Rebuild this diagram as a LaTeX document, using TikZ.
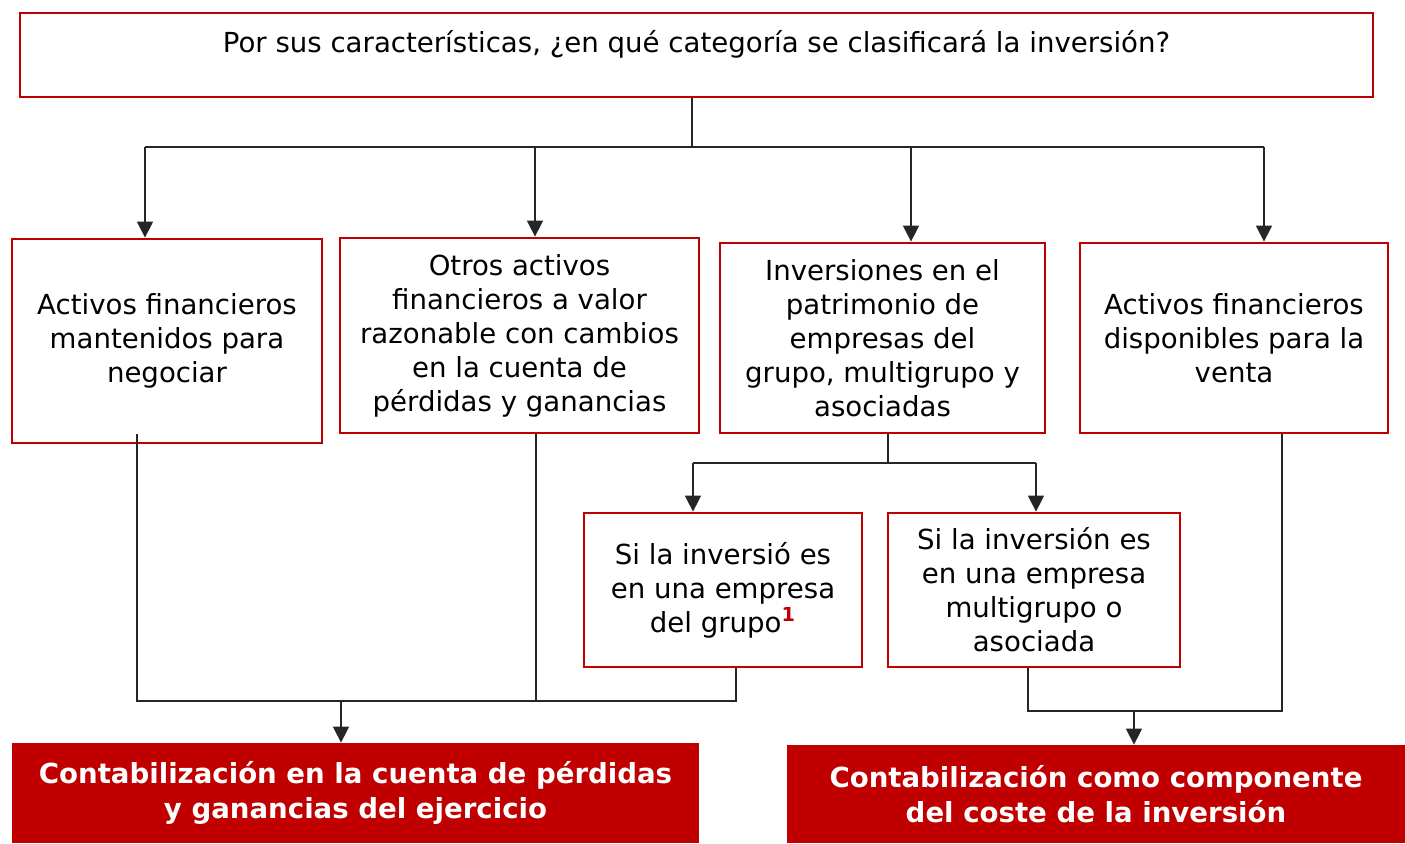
\documentclass[tikz,border=0pt]{standalone}
\usepackage{fontspec}
\setmainfont{DejaVu Sans}
\usetikzlibrary{arrows.meta}

\definecolor{rojo}{RGB}{192,0,0}
\tikzstyle{caja} = [rectangle,draw=rojo,line width=1.4pt,align=center,inner sep=2pt]
\tikzstyle{final} = [rectangle,fill=rojo,text=white,align=center,font=\fontsize{13.8}{17.5}\selectfont\bfseries]
\tikzstyle{linea} = [draw=black!85,line width=0.75pt]
\tikzstyle{flecha} = [linea,-{Triangle[width=8pt,length=8pt]}]
\tikzstyle{every node}=[font=\fontsize{13.8}{17}\selectfont]

\begin{document}
\begin{tikzpicture}[x=0.5pt,y=-0.5pt]
	\useasboundingbox (0,0) rectangle (1405,843);
	% pregunta
	\node[caja,minimum width=676.5pt,minimum height=42pt,text height=10pt,text depth=13pt] (Q) at (696.5,55)
	  {Por sus características, ¿en qué categoría se clasificará la inversión?};
	% categorias
	\node[caja,minimum width=155pt,minimum height=102pt] (B1) at (167,341)
	  {Activos financieros\\mantenidos para\\negociar};
	\node[caja,minimum width=179.5pt,minimum height=97.5pt] (B2) at (519.5,335.5)
	  {Otros activos\\financieros a valor\\razonable con cambios\\en la cuenta de\\pérdidas y ganancias};
	\node[caja,minimum width=162.5pt,minimum height=95pt] (B3) at (882.5,338)
	  {Inversiones en el\\patrimonio de\\empresas del\\grupo, multigrupo y\\asociadas};
	\node[caja,minimum width=154pt,minimum height=95pt] (B4) at (1234,338)
	  {Activos financieros\\disponibles para la\\venta};
	\node[caja,minimum width=139pt,minimum height=77pt] (B5) at (723,590)
	  {Si la inversió es\\en una empresa\\del grupo\textsuperscript{\textcolor{rojo}{\textbf{1}}}};
	\node[caja,minimum width=146pt,minimum height=77pt] (B6) at (1034,590)
	  {Si la inversión es\\en una empresa\\multigrupo o\\asociada};
	% resultados
	\node[final,minimum width=343.5pt,minimum height=50pt] (R1) at (355.5,793)
	  {Contabilización en la cuenta de pérdidas\\y ganancias del ejercicio};
	\node[final,minimum width=309pt,minimum height=49pt] (R2) at (1096,794)
	  {Contabilización como componente\\del coste de la inversión};

	\coordinate (bus) at (692,147);
	\coordinate (bus2) at (888,463);
	\coordinate (col1) at (341,701);
	\coordinate (col2) at (1134,711);

	\draw[linea] (Q.south -| bus) -- (bus);
	\draw[linea] ([xshift=-11pt]B1.north |- bus) -- ([xshift=15pt]B4.north |- bus);
	\foreach \n/\s in {B1/-11pt,B2/7.75pt,B3/14.25pt,B4/15pt}
	{\draw[flecha] ([xshift=\s]\n.north |- bus) -- ([xshift=\s]\n.north);}

	\draw[linea] (B3.south -| bus2) -- (bus2);
	\draw[linea] ([xshift=-15pt]B5.north |- bus2) -- ([xshift=1pt]B6.north |- bus2);
	\foreach \n/\s in {B5/-15pt,B6/1pt}
	{\draw[flecha] ([xshift=\s]\n.north |- bus2) -- ([xshift=\s]\n.north);}

	\draw[linea] ([xshift=-15pt,yshift=5pt]B1.south) |- ([xshift=6.5pt]B5.south |- col1) -- ([xshift=6.5pt]B5.south);
	\draw[linea] ([xshift=8.25pt]B2.south) -- ([xshift=8.25pt]B2.south |- col1);
	\draw[flecha] (col1) -- (R1.north -| col1);

	\draw[linea] ([xshift=-3pt]B6.south) |- ([xshift=24pt]B4.south |- col2) -- ([xshift=24pt]B4.south);
	\draw[flecha] (col2) -- (R2.north -| col2);
\end{tikzpicture}
\end{document}
